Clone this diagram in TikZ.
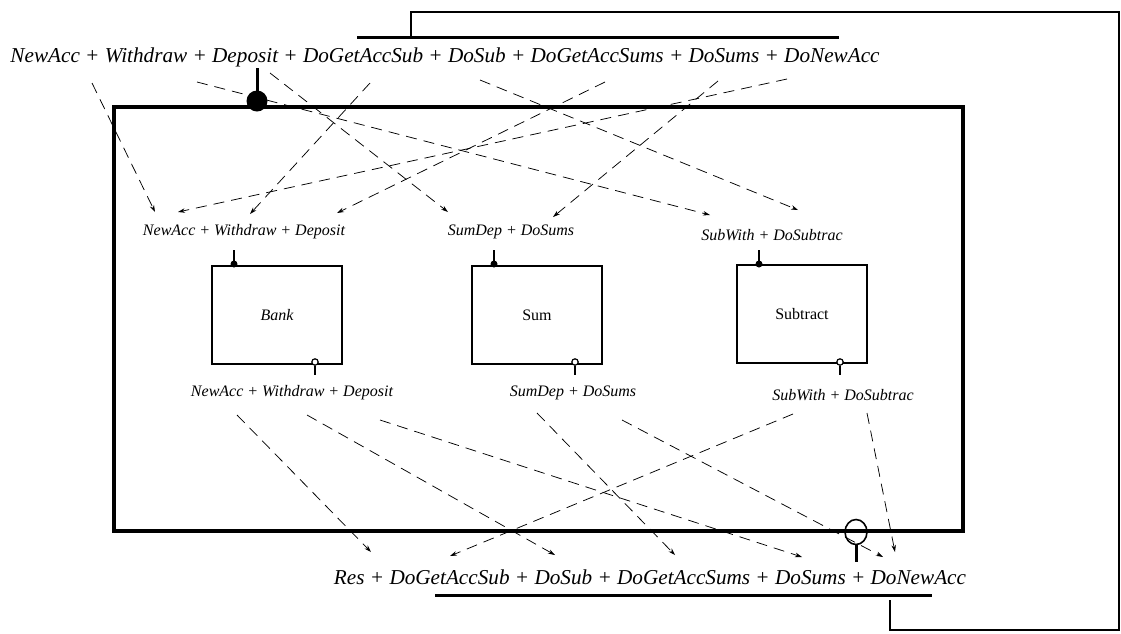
\documentclass[tikz,border=0pt]{standalone}
\usepackage{fontspec}
\setmainfont{Liberation Serif}
\usetikzlibrary{arrows.meta,shapes.geometric}
\begin{document}
\begin{tikzpicture}[x=1pt,y=-1pt,
  lbl/.style={inner sep=0pt,font=\fontsize{16}{18}\selectfont\itshape},
  big/.style={inner sep=0pt,font=\fontsize{21.2}{24}\selectfont\itshape},
  compbox/.style={draw,line width=2.2pt,minimum width=130pt,minimum height=98pt,inner sep=0pt,font=\fontsize{16}{18}\selectfont},
  arr/.style={-{Stealth[length=7pt,width=4.5pt]},dash pattern=on 11pt off 7pt,line width=0.75pt},
  thick line/.style={line width=3pt},
  wire/.style={line width=2.8pt}]
\useasboundingbox (0,0) rectangle (1121,633);
% outer box
\draw[line width=3.3pt] (114,107) rectangle (963,531);
% main labels
\node[big] (top) at (445,57) {NewAcc + Withdraw + Deposit + DoGetAccSub + DoSub + DoGetAccSums + DoSums + DoNewAcc};
\node[big] (bot) at (650,577) {Res + DoGetAccSub + DoSub + DoGetAccSums + DoSums + DoNewAcc};
% components
\node[compbox] (bank) at (277,315) {\itshape Bank};
\node[compbox] (sum) at (537,315) {Sum};
\node[compbox] (sub) at (802,314) {Subtract};
% inner labels
\node[lbl] (bankin) at (244,232) {NewAcc + Withdraw + Deposit};
\node[lbl] (sumin) at (511,232) {SumDep + DoSums};
\node[lbl] (subin) at (772,235) {SubWith + DoSubtrac};
\node[lbl] (bankout) at (292,393) {NewAcc + Withdraw + Deposit};
\node[lbl] (sumout) at (573,393) {SumDep + DoSums};
\node[lbl] (subout) at (843,395) {SubWith + DoSubtrac};
% ports on outer box
\node[circle,fill,inner sep=0pt,minimum size=21pt] (inport) at (257,101) {};
\node[ellipse,draw,line width=1.6pt,inner sep=0pt,minimum width=22pt,minimum height=25pt] (outport) at (856,532) {};
\coordinate (instem) at (257,68);
\coordinate (outstem) at (856,562);
\draw[thick line] (instem) -- (inport.center);
\draw[thick line] (outport.south) -- (outstem);
% small ports on components
\foreach \x/\n in {234/bank,494/sum,759/sub}{
  \coordinate (\n-pt) at (\x,264);
  \coordinate (\n-ps) at (\x,250);
  \draw[line width=2.4pt] (\n-ps) -- (\n-pt);
  \fill (\n-pt) circle (3.5pt);
}
\foreach \x/\n in {315/bank,575/sum,840/sub}{
  \coordinate (\n-pb) at (\x,362);
  \coordinate (\n-pe) at (\x,375);
  \draw[line width=2.4pt] (\x,366) -- (\n-pe);
  \draw[line width=1.2pt,fill=white] (\n-pb) circle (3.2pt);
}
% bracket lines
\coordinate (ol1) at (357,37);
\coordinate (ol2) at (839,37);
\coordinate (c1) at (411,37);
\coordinate (c2) at (411,12);
\coordinate (c3) at (1119,12);
\coordinate (c4) at (1119,630);
\coordinate (c5) at (890,630);
\coordinate (c6) at (890,600);
\coordinate (ul1) at (435,595);
\coordinate (ul2) at (932,595);
\draw[thick line] (ol1) -- (ol2);
\draw[thick line] (ul1) -- (ul2);
\draw[wire] (c1) -- (c2) -- (c3) -- (c4) -- (c5) -- (c6);
% top arrows
\coordinate (a1s) at (92,83);   \coordinate (a1e) at (155,212);
\coordinate (a2s) at (197,82);  \coordinate (a2e) at (710,215);
\coordinate (a3s) at (270,73);  \coordinate (a3e) at (448,212);
\coordinate (a4s) at (370,83);  \coordinate (a4e) at (250,214);
\coordinate (a5s) at (605,82);  \coordinate (a5e) at (337,213);
\coordinate (a6s) at (787,79);  \coordinate (a6e) at (178,212);
\coordinate (a7s) at (718,81);  \coordinate (a7e) at (553,217);
\coordinate (a8s) at (480,80);  \coordinate (a8e) at (798,210);
\foreach \i in {1,...,8}{\draw[arr] (a\i s) -- (a\i e);}
% bottom arrows
\coordinate (b1s) at (237,415); \coordinate (b1e) at (371,552);
\coordinate (b2s) at (307,415); \coordinate (b2e) at (555,555);
\coordinate (b3s) at (380,420); \coordinate (b3e) at (802,557);
\coordinate (b4s) at (537,413); \coordinate (b4e) at (675,555);
\coordinate (b5s) at (793,414); \coordinate (b5e) at (450,556);
\coordinate (b6s) at (622,420); \coordinate (b6e) at (883,557);
\coordinate (b7s) at (867,413); \coordinate (b7e) at (895,552);
\foreach \i in {1,...,7}{\draw[arr] (b\i s) -- (b\i e);}
\end{tikzpicture}
\end{document}
